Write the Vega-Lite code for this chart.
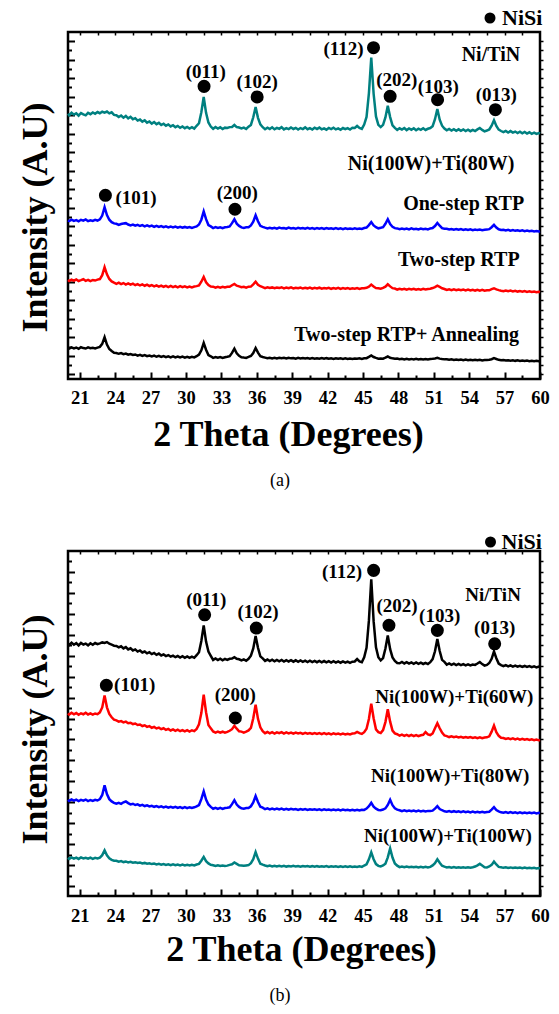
{
"$schema": "https://vega.github.io/schema/vega-lite/v6.json",
"background": "white",
"padding": {"left": 15, "top": 5, "right": 5, "bottom": 5},
"bounds": "flush",
"spacing": 172,
"config": {"view": {"stroke": "black", "strokeWidth": 2.5}},
"resolve": {"scale": {"color": "independent", "shape": "independent"}, "legend": {"color": "independent", "shape": "independent"}},
"datasets": {
"pa": [
{"x":20.0,"a":28.15,"b":16.62,"c":10.18,"d":2.88},
{"x":20.1,"a":27.98,"b":16.55,"c":10.09,"d":2.79},
{"x":20.3,"a":28.26,"b":16.71,"c":10.22,"d":2.92},
{"x":20.5,"a":28.05,"b":16.58,"c":10.12,"d":2.81},
{"x":20.7,"a":28.19,"b":16.66,"c":10.24,"d":2.9},
{"x":20.9,"a":27.94,"b":16.52,"c":10.08,"d":2.76},
{"x":21.1,"a":28.22,"b":16.69,"c":10.17,"d":2.93},
{"x":21.3,"a":28.08,"b":16.6,"c":10.27,"d":2.84},
{"x":21.5,"a":27.97,"b":16.73,"c":10.1,"d":2.79},
{"x":21.7,"a":28.24,"b":16.54,"c":10.2,"d":2.91},
{"x":21.9,"a":28.1,"b":16.64,"c":10.06,"d":2.82},
{"x":22.1,"a":28.29,"b":16.57,"c":10.19,"d":2.87},
{"x":22.3,"a":28.14,"b":16.68,"c":10.13,"d":2.8},
{"x":22.5,"a":28.33,"b":16.61,"c":10.23,"d":2.89},
{"x":22.7,"a":28.2,"b":16.74,"c":10.29,"d":2.97},
{"x":22.9,"a":28.36,"b":17.15,"c":10.71,"d":3.3},
{"x":23.1,"a":28.27,"b":18.05,"c":11.58,"d":4.02},
{"x":23.3,"a":28.38,"b":17.2,"c":10.8,"d":3.22},
{"x":23.5,"a":28.18,"b":16.7,"c":10.3,"d":2.74},
{"x":23.7,"a":28.3,"b":16.44,"c":10.04,"d":2.52},
{"x":23.9,"a":28.02,"b":16.3,"c":9.9,"d":2.33},
{"x":24.1,"a":27.98,"b":16.26,"c":9.78,"d":2.31},
{"x":24.3,"a":27.79,"b":16.15,"c":9.9,"d":2.22},
{"x":24.5,"a":27.95,"b":16.24,"c":9.74,"d":2.29},
{"x":24.7,"a":27.72,"b":16.3,"c":9.86,"d":2.18},
{"x":24.9,"a":27.9,"b":16.33,"c":9.7,"d":2.24},
{"x":25.1,"a":27.64,"b":16.18,"c":9.82,"d":2.12},
{"x":25.3,"a":27.81,"b":16.09,"c":9.69,"d":2.2},
{"x":25.5,"a":27.55,"b":16.17,"c":9.79,"d":2.09},
{"x":25.7,"a":27.66,"b":16.05,"c":9.63,"d":2.15},
{"x":25.9,"a":27.41,"b":16.14,"c":9.75,"d":2.03},
{"x":26.1,"a":27.52,"b":16.02,"c":9.6,"d":2.11},
{"x":26.3,"a":27.29,"b":16.12,"c":9.71,"d":1.99},
{"x":26.5,"a":27.44,"b":15.99,"c":9.57,"d":2.08},
{"x":26.7,"a":27.18,"b":16.09,"c":9.68,"d":1.96},
{"x":26.9,"a":27.31,"b":15.97,"c":9.54,"d":2.04},
{"x":27.1,"a":27.08,"b":16.06,"c":9.64,"d":1.93},
{"x":27.3,"a":27.25,"b":15.93,"c":9.51,"d":2.02},
{"x":27.5,"a":27.02,"b":16.03,"c":9.62,"d":1.9},
{"x":27.7,"a":27.16,"b":15.92,"c":9.48,"d":1.99},
{"x":27.9,"a":26.93,"b":16.01,"c":9.59,"d":1.88},
{"x":28.1,"a":27.07,"b":15.9,"c":9.46,"d":1.97},
{"x":28.3,"a":26.85,"b":15.99,"c":9.56,"d":1.86},
{"x":28.5,"a":26.99,"b":15.88,"c":9.43,"d":1.95},
{"x":28.7,"a":26.77,"b":15.97,"c":9.55,"d":1.84},
{"x":28.9,"a":26.9,"b":15.86,"c":9.42,"d":1.94},
{"x":29.1,"a":26.69,"b":15.95,"c":9.53,"d":1.83},
{"x":29.3,"a":26.83,"b":15.85,"c":9.4,"d":1.92},
{"x":29.5,"a":26.62,"b":15.94,"c":9.52,"d":1.82},
{"x":29.7,"a":26.77,"b":15.84,"c":9.41,"d":1.91},
{"x":29.9,"a":26.58,"b":15.92,"c":9.5,"d":1.81},
{"x":30.1,"a":26.72,"b":15.83,"c":9.39,"d":1.9},
{"x":30.3,"a":26.55,"b":15.91,"c":9.49,"d":1.8},
{"x":30.5,"a":26.7,"b":15.82,"c":9.4,"d":1.89},
{"x":30.7,"a":26.54,"b":15.9,"c":9.48,"d":1.83},
{"x":30.9,"a":26.84,"b":15.98,"c":9.53,"d":1.96},
{"x":31.1,"a":27.12,"b":16.18,"c":9.6,"d":2.14},
{"x":31.3,"a":28.31,"b":16.7,"c":10.0,"d":2.6},
{"x":31.5,"a":29.95,"b":17.6,"c":10.52,"d":3.4},
{"x":31.7,"a":28.24,"b":16.76,"c":9.95,"d":2.66},
{"x":31.9,"a":27.2,"b":16.12,"c":9.64,"d":2.09},
{"x":32.1,"a":26.76,"b":15.98,"c":9.48,"d":1.95},
{"x":32.3,"a":26.52,"b":15.8,"c":9.47,"d":1.78},
{"x":32.5,"a":26.71,"b":15.9,"c":9.36,"d":1.87},
{"x":32.7,"a":26.55,"b":15.81,"c":9.45,"d":1.79},
{"x":32.9,"a":26.68,"b":15.89,"c":9.37,"d":1.86},
{"x":33.1,"a":26.49,"b":15.79,"c":9.46,"d":1.77},
{"x":33.3,"a":26.64,"b":15.88,"c":9.38,"d":1.85},
{"x":33.5,"a":26.6,"b":15.92,"c":9.46,"d":1.9},
{"x":33.7,"a":26.7,"b":15.98,"c":9.45,"d":1.96},
{"x":33.9,"a":26.72,"b":16.33,"c":9.62,"d":2.32},
{"x":34.1,"a":26.93,"b":16.75,"c":9.77,"d":2.77},
{"x":34.3,"a":26.7,"b":16.27,"c":9.58,"d":2.27},
{"x":34.5,"a":26.66,"b":16.03,"c":9.5,"d":2.0},
{"x":34.7,"a":26.56,"b":15.87,"c":9.41,"d":1.85},
{"x":34.9,"a":26.65,"b":15.82,"c":9.45,"d":1.81},
{"x":35.1,"a":26.5,"b":15.88,"c":9.37,"d":1.78},
{"x":35.3,"a":26.75,"b":15.89,"c":9.47,"d":1.88},
{"x":35.5,"a":26.94,"b":16.09,"c":9.48,"d":1.99},
{"x":35.7,"a":27.76,"b":16.48,"c":9.72,"d":2.31},
{"x":35.9,"a":28.88,"b":17.18,"c":10.0,"d":2.85},
{"x":36.1,"a":27.7,"b":16.53,"c":9.68,"d":2.35},
{"x":36.3,"a":26.99,"b":16.04,"c":9.52,"d":1.96},
{"x":36.5,"a":26.69,"b":15.93,"c":9.42,"d":1.87},
{"x":36.7,"a":26.47,"b":15.84,"c":9.31,"d":1.81},
{"x":36.9,"a":26.63,"b":15.76,"c":9.4,"d":1.74},
{"x":37.1,"a":26.5,"b":15.83,"c":9.33,"d":1.8},
{"x":37.3,"a":26.68,"b":15.75,"c":9.39,"d":1.73},
{"x":37.5,"a":26.46,"b":15.82,"c":9.3,"d":1.79},
{"x":37.7,"a":26.61,"b":15.74,"c":9.38,"d":1.72},
{"x":37.9,"a":26.52,"b":15.85,"c":9.32,"d":1.8},
{"x":38.1,"a":26.7,"b":15.77,"c":9.41,"d":1.74},
{"x":38.3,"a":26.45,"b":15.81,"c":9.29,"d":1.78},
{"x":38.5,"a":26.59,"b":15.73,"c":9.37,"d":1.71},
{"x":38.7,"a":26.48,"b":15.84,"c":9.31,"d":1.79},
{"x":38.9,"a":26.66,"b":15.76,"c":9.4,"d":1.73},
{"x":39.1,"a":26.5,"b":15.8,"c":9.28,"d":1.77},
{"x":39.3,"a":26.62,"b":15.72,"c":9.36,"d":1.7},
{"x":39.5,"a":26.44,"b":15.83,"c":9.3,"d":1.78},
{"x":39.7,"a":26.6,"b":15.75,"c":9.38,"d":1.72},
{"x":39.9,"a":26.49,"b":15.81,"c":9.27,"d":1.76},
{"x":40.1,"a":26.67,"b":15.73,"c":9.35,"d":1.71},
{"x":40.3,"a":26.47,"b":15.82,"c":9.29,"d":1.77},
{"x":40.5,"a":26.58,"b":15.74,"c":9.37,"d":1.7},
{"x":40.7,"a":26.43,"b":15.8,"c":9.26,"d":1.76},
{"x":40.9,"a":26.63,"b":15.71,"c":9.34,"d":1.69},
{"x":41.1,"a":26.5,"b":15.81,"c":9.28,"d":1.75},
{"x":41.3,"a":26.65,"b":15.73,"c":9.36,"d":1.7},
{"x":41.5,"a":26.46,"b":15.79,"c":9.25,"d":1.76},
{"x":41.7,"a":26.57,"b":15.7,"c":9.33,"d":1.68},
{"x":41.9,"a":26.42,"b":15.8,"c":9.27,"d":1.75},
{"x":42.1,"a":26.61,"b":15.72,"c":9.35,"d":1.69},
{"x":42.3,"a":26.48,"b":15.78,"c":9.24,"d":1.74},
{"x":42.5,"a":26.64,"b":15.7,"c":9.32,"d":1.67},
{"x":42.7,"a":26.45,"b":15.79,"c":9.26,"d":1.74},
{"x":42.9,"a":26.56,"b":15.71,"c":9.34,"d":1.68},
{"x":43.1,"a":26.41,"b":15.77,"c":9.23,"d":1.73},
{"x":43.3,"a":26.6,"b":15.69,"c":9.31,"d":1.67},
{"x":43.5,"a":26.47,"b":15.78,"c":9.25,"d":1.73},
{"x":43.7,"a":26.58,"b":15.7,"c":9.33,"d":1.66},
{"x":43.9,"a":26.44,"b":15.76,"c":9.22,"d":1.72},
{"x":44.1,"a":26.62,"b":15.69,"c":9.3,"d":1.67},
{"x":44.3,"a":26.6,"b":15.77,"c":9.25,"d":1.72},
{"x":44.5,"a":26.82,"b":15.71,"c":9.32,"d":1.68},
{"x":44.7,"a":26.6,"b":15.76,"c":9.23,"d":1.73},
{"x":44.9,"a":26.5,"b":15.7,"c":9.3,"d":1.67},
{"x":45.1,"a":26.98,"b":15.8,"c":9.29,"d":1.73},
{"x":45.3,"a":27.8,"b":15.85,"c":9.35,"d":1.75},
{"x":45.5,"a":30.35,"b":16.12,"c":9.47,"d":1.89},
{"x":45.7,"a":34.2,"b":16.45,"c":9.7,"d":2.05},
{"x":45.9,"a":30.3,"b":16.08,"c":9.5,"d":1.87},
{"x":46.1,"a":27.85,"b":15.89,"c":9.31,"d":1.78},
{"x":46.3,"a":26.95,"b":15.77,"c":9.29,"d":1.7},
{"x":46.5,"a":26.7,"b":15.83,"c":9.24,"d":1.72},
{"x":46.7,"a":26.95,"b":15.9,"c":9.33,"d":1.7},
{"x":46.9,"a":27.75,"b":16.26,"c":9.47,"d":1.81},
{"x":47.1,"a":29.0,"b":16.75,"c":9.73,"d":1.93},
{"x":47.3,"a":27.78,"b":16.22,"c":9.5,"d":1.79},
{"x":47.5,"a":26.9,"b":15.94,"c":9.31,"d":1.73},
{"x":47.7,"a":26.62,"b":15.79,"c":9.27,"d":1.68},
{"x":47.9,"a":26.4,"b":15.76,"c":9.16,"d":1.7},
{"x":48.1,"a":26.57,"b":15.68,"c":9.25,"d":1.63},
{"x":48.3,"a":26.43,"b":15.75,"c":9.17,"d":1.69},
{"x":48.5,"a":26.6,"b":15.67,"c":9.24,"d":1.62},
{"x":48.7,"a":26.38,"b":15.74,"c":9.15,"d":1.68},
{"x":48.9,"a":26.55,"b":15.66,"c":9.23,"d":1.62},
{"x":49.1,"a":26.42,"b":15.76,"c":9.16,"d":1.67},
{"x":49.3,"a":26.58,"b":15.68,"c":9.24,"d":1.61},
{"x":49.5,"a":26.36,"b":15.73,"c":9.14,"d":1.67},
{"x":49.7,"a":26.53,"b":15.65,"c":9.22,"d":1.6},
{"x":49.9,"a":26.41,"b":15.74,"c":9.15,"d":1.66},
{"x":50.1,"a":26.57,"b":15.67,"c":9.23,"d":1.61},
{"x":50.3,"a":26.39,"b":15.72,"c":9.17,"d":1.66},
{"x":50.5,"a":26.52,"b":15.66,"c":9.22,"d":1.6},
{"x":50.7,"a":26.6,"b":15.76,"c":9.25,"d":1.65},
{"x":50.9,"a":26.8,"b":15.8,"c":9.32,"d":1.68},
{"x":51.1,"a":27.55,"b":16.02,"c":9.42,"d":1.72},
{"x":51.3,"a":28.65,"b":16.35,"c":9.58,"d":1.78},
{"x":51.5,"a":27.5,"b":16.05,"c":9.44,"d":1.7},
{"x":51.7,"a":26.85,"b":15.79,"c":9.3,"d":1.65},
{"x":51.9,"a":26.55,"b":15.73,"c":9.22,"d":1.62},
{"x":52.1,"a":26.35,"b":15.72,"c":9.11,"d":1.63},
{"x":52.3,"a":26.5,"b":15.64,"c":9.19,"d":1.57},
{"x":52.5,"a":26.33,"b":15.7,"c":9.1,"d":1.62},
{"x":52.7,"a":26.48,"b":15.62,"c":9.18,"d":1.56},
{"x":52.9,"a":26.31,"b":15.69,"c":9.09,"d":1.61},
{"x":53.1,"a":26.46,"b":15.61,"c":9.17,"d":1.55},
{"x":53.3,"a":26.3,"b":15.68,"c":9.08,"d":1.6},
{"x":53.5,"a":26.44,"b":15.6,"c":9.16,"d":1.54},
{"x":53.7,"a":26.28,"b":15.67,"c":9.07,"d":1.59},
{"x":53.9,"a":26.42,"b":15.59,"c":9.15,"d":1.53},
{"x":54.1,"a":26.26,"b":15.66,"c":9.06,"d":1.58},
{"x":54.3,"a":26.4,"b":15.58,"c":9.14,"d":1.53},
{"x":54.5,"a":26.27,"b":15.65,"c":9.05,"d":1.57},
{"x":54.7,"a":26.45,"b":15.58,"c":9.13,"d":1.52},
{"x":54.9,"a":26.6,"b":15.63,"c":9.04,"d":1.57},
{"x":55.1,"a":26.4,"b":15.57,"c":9.12,"d":1.51},
{"x":55.3,"a":26.24,"b":15.62,"c":9.03,"d":1.56},
{"x":55.5,"a":26.33,"b":15.63,"c":9.09,"d":1.55},
{"x":55.7,"a":26.44,"b":15.68,"c":9.08,"d":1.59},
{"x":55.9,"a":26.86,"b":15.89,"c":9.2,"d":1.64},
{"x":56.1,"a":27.45,"b":16.15,"c":9.3,"d":1.75},
{"x":56.3,"a":26.82,"b":15.86,"c":9.17,"d":1.66},
{"x":56.5,"a":26.43,"b":15.67,"c":9.1,"d":1.57},
{"x":56.7,"a":26.28,"b":15.6,"c":9.04,"d":1.53},
{"x":56.9,"a":26.15,"b":15.61,"c":8.99,"d":1.55},
{"x":57.1,"a":26.29,"b":15.54,"c":9.06,"d":1.49},
{"x":57.3,"a":26.12,"b":15.6,"c":8.97,"d":1.53},
{"x":57.5,"a":26.27,"b":15.52,"c":9.04,"d":1.48},
{"x":57.7,"a":26.1,"b":15.58,"c":8.96,"d":1.52},
{"x":57.9,"a":26.22,"b":15.5,"c":9.03,"d":1.46},
{"x":58.1,"a":26.06,"b":15.56,"c":8.94,"d":1.51},
{"x":58.3,"a":26.2,"b":15.49,"c":9.01,"d":1.45},
{"x":58.5,"a":26.03,"b":15.55,"c":8.93,"d":1.5},
{"x":58.7,"a":26.17,"b":15.47,"c":8.99,"d":1.44},
{"x":58.9,"a":26.01,"b":15.53,"c":8.91,"d":1.49},
{"x":59.1,"a":26.14,"b":15.46,"c":8.97,"d":1.43},
{"x":59.3,"a":25.98,"b":15.51,"c":8.9,"d":1.47},
{"x":59.5,"a":26.1,"b":15.44,"c":8.95,"d":1.42},
{"x":59.7,"a":25.96,"b":15.49,"c":8.88,"d":1.46},
{"x":59.9,"a":26.06,"b":15.43,"c":8.93,"d":1.41},
{"x":60.0,"a":25.99,"b":15.46,"c":8.9,"d":1.43}
],
"pb": [
{"x":20.0,"a":23.18,"b":16.5,"c":8.24,"d":2.7},
{"x":20.1,"a":23.02,"b":16.38,"c":8.13,"d":2.6},
{"x":20.3,"a":23.25,"b":16.55,"c":8.27,"d":2.74},
{"x":20.5,"a":23.05,"b":16.4,"c":8.15,"d":2.62},
{"x":20.7,"a":23.2,"b":16.52,"c":8.25,"d":2.71},
{"x":20.9,"a":22.98,"b":16.36,"c":8.12,"d":2.59},
{"x":21.1,"a":23.22,"b":16.5,"c":8.23,"d":2.73},
{"x":21.3,"a":23.07,"b":16.41,"c":8.16,"d":2.63},
{"x":21.5,"a":23.16,"b":16.56,"c":8.26,"d":2.7},
{"x":21.7,"a":22.99,"b":16.39,"c":8.11,"d":2.61},
{"x":21.9,"a":23.19,"b":16.49,"c":8.22,"d":2.72},
{"x":22.1,"a":23.04,"b":16.37,"c":8.14,"d":2.6},
{"x":22.3,"a":23.21,"b":16.48,"c":8.24,"d":2.69},
{"x":22.5,"a":23.1,"b":16.42,"c":8.17,"d":2.64},
{"x":22.7,"a":23.18,"b":16.59,"c":8.3,"d":2.72},
{"x":22.9,"a":23.27,"b":17.06,"c":8.7,"d":2.95},
{"x":23.1,"a":23.22,"b":18.2,"c":9.62,"d":3.41},
{"x":23.3,"a":23.3,"b":17.07,"c":8.78,"d":2.93},
{"x":23.5,"a":23.14,"b":16.44,"c":8.3,"d":2.65},
{"x":23.7,"a":23.05,"b":16.12,"c":8.08,"d":2.5},
{"x":23.9,"a":22.95,"b":15.9,"c":7.95,"d":2.42},
{"x":24.1,"a":22.93,"b":15.82,"c":7.86,"d":2.42},
{"x":24.3,"a":22.79,"b":15.7,"c":7.94,"d":2.33},
{"x":24.5,"a":22.9,"b":15.75,"c":7.85,"d":2.38},
{"x":24.7,"a":22.7,"b":15.63,"c":8.0,"d":2.29},
{"x":24.9,"a":22.82,"b":15.7,"c":8.08,"d":2.35},
{"x":25.1,"a":22.6,"b":15.55,"c":7.92,"d":2.26},
{"x":25.3,"a":22.71,"b":15.6,"c":7.8,"d":2.31},
{"x":25.5,"a":22.5,"b":15.47,"c":7.86,"d":2.23},
{"x":25.7,"a":22.6,"b":15.52,"c":7.74,"d":2.28},
{"x":25.9,"a":22.39,"b":15.38,"c":7.8,"d":2.2},
{"x":26.1,"a":22.5,"b":15.43,"c":7.68,"d":2.24},
{"x":26.3,"a":22.31,"b":15.28,"c":7.75,"d":2.16},
{"x":26.5,"a":22.4,"b":15.35,"c":7.64,"d":2.21},
{"x":26.7,"a":22.22,"b":15.2,"c":7.71,"d":2.13},
{"x":26.9,"a":22.33,"b":15.27,"c":7.6,"d":2.18},
{"x":27.1,"a":22.15,"b":15.12,"c":7.67,"d":2.1},
{"x":27.3,"a":22.26,"b":15.2,"c":7.57,"d":2.15},
{"x":27.5,"a":22.08,"b":15.05,"c":7.64,"d":2.07},
{"x":27.7,"a":22.2,"b":15.13,"c":7.54,"d":2.12},
{"x":27.9,"a":22.02,"b":14.98,"c":7.61,"d":2.04},
{"x":28.1,"a":22.12,"b":15.07,"c":7.51,"d":2.1},
{"x":28.3,"a":21.96,"b":14.91,"c":7.59,"d":2.02},
{"x":28.5,"a":22.06,"b":15.01,"c":7.49,"d":2.08},
{"x":28.7,"a":21.91,"b":14.86,"c":7.57,"d":2.0},
{"x":28.9,"a":22.01,"b":14.96,"c":7.48,"d":2.07},
{"x":29.1,"a":21.86,"b":14.82,"c":7.56,"d":1.99},
{"x":29.3,"a":21.97,"b":14.93,"c":7.46,"d":2.06},
{"x":29.5,"a":21.83,"b":14.79,"c":7.55,"d":1.98},
{"x":29.7,"a":21.95,"b":14.9,"c":7.45,"d":2.05},
{"x":29.9,"a":21.8,"b":14.77,"c":7.54,"d":1.97},
{"x":30.1,"a":21.93,"b":14.89,"c":7.44,"d":2.04},
{"x":30.3,"a":21.79,"b":14.76,"c":7.53,"d":1.96},
{"x":30.5,"a":21.91,"b":14.88,"c":7.45,"d":2.03},
{"x":30.7,"a":21.8,"b":14.8,"c":7.52,"d":1.97},
{"x":30.9,"a":22.05,"b":15.0,"c":7.61,"d":2.06},
{"x":31.1,"a":22.33,"b":15.45,"c":7.74,"d":2.12},
{"x":31.3,"a":23.4,"b":16.52,"c":8.3,"d":2.42},
{"x":31.5,"a":24.9,"b":18.27,"c":9.04,"d":2.78},
{"x":31.7,"a":23.35,"b":16.6,"c":8.25,"d":2.38},
{"x":31.9,"a":22.4,"b":15.38,"c":7.79,"d":2.16},
{"x":32.1,"a":21.99,"b":15.06,"c":7.56,"d":2.03},
{"x":32.3,"a":21.6,"b":14.77,"c":7.38,"d":1.99},
{"x":32.5,"a":21.74,"b":14.66,"c":7.47,"d":1.92},
{"x":32.7,"a":21.58,"b":14.76,"c":7.37,"d":1.98},
{"x":32.9,"a":21.71,"b":14.65,"c":7.46,"d":1.91},
{"x":33.1,"a":21.56,"b":14.74,"c":7.36,"d":1.97},
{"x":33.3,"a":21.69,"b":14.64,"c":7.45,"d":1.92},
{"x":33.5,"a":21.6,"b":14.72,"c":7.47,"d":1.95},
{"x":33.7,"a":21.7,"b":14.83,"c":7.52,"d":2.02},
{"x":33.9,"a":21.72,"b":14.98,"c":7.82,"d":2.08},
{"x":34.1,"a":21.86,"b":15.3,"c":8.2,"d":2.25},
{"x":34.3,"a":21.7,"b":15.03,"c":7.78,"d":2.12},
{"x":34.5,"a":21.66,"b":14.78,"c":7.56,"d":1.98},
{"x":34.7,"a":21.55,"b":14.75,"c":7.43,"d":1.96},
{"x":34.9,"a":21.65,"b":14.66,"c":7.39,"d":1.93},
{"x":35.1,"a":21.52,"b":14.74,"c":7.46,"d":1.97},
{"x":35.3,"a":21.7,"b":14.86,"c":7.45,"d":2.0},
{"x":35.5,"a":22.0,"b":15.1,"c":7.62,"d":2.18},
{"x":35.7,"a":22.7,"b":16.03,"c":7.98,"d":2.56},
{"x":35.9,"a":23.88,"b":17.33,"c":8.6,"d":3.24},
{"x":36.1,"a":22.76,"b":15.97,"c":8.03,"d":2.62},
{"x":36.3,"a":21.94,"b":15.16,"c":7.58,"d":2.13},
{"x":36.5,"a":21.74,"b":14.8,"c":7.49,"d":2.04},
{"x":36.7,"a":21.5,"b":14.6,"c":7.34,"d":1.96},
{"x":36.9,"a":21.63,"b":14.71,"c":7.42,"d":1.89},
{"x":37.1,"a":21.48,"b":14.58,"c":7.33,"d":1.95},
{"x":37.3,"a":21.61,"b":14.69,"c":7.41,"d":1.88},
{"x":37.5,"a":21.46,"b":14.57,"c":7.32,"d":1.94},
{"x":37.7,"a":21.6,"b":14.68,"c":7.4,"d":1.87},
{"x":37.9,"a":21.47,"b":14.6,"c":7.31,"d":1.93},
{"x":38.1,"a":21.59,"b":14.7,"c":7.39,"d":1.88},
{"x":38.3,"a":21.44,"b":14.56,"c":7.3,"d":1.94},
{"x":38.5,"a":21.58,"b":14.67,"c":7.38,"d":1.86},
{"x":38.7,"a":21.45,"b":14.58,"c":7.29,"d":1.92},
{"x":38.9,"a":21.57,"b":14.66,"c":7.37,"d":1.87},
{"x":39.1,"a":21.43,"b":14.55,"c":7.31,"d":1.93},
{"x":39.3,"a":21.56,"b":14.65,"c":7.36,"d":1.86},
{"x":39.5,"a":21.42,"b":14.57,"c":7.28,"d":1.91},
{"x":39.7,"a":21.55,"b":14.64,"c":7.36,"d":1.85},
{"x":39.9,"a":21.41,"b":14.54,"c":7.29,"d":1.92},
{"x":40.1,"a":21.53,"b":14.63,"c":7.35,"d":1.86},
{"x":40.3,"a":21.4,"b":14.55,"c":7.27,"d":1.91},
{"x":40.5,"a":21.52,"b":14.62,"c":7.34,"d":1.85},
{"x":40.7,"a":21.39,"b":14.53,"c":7.28,"d":1.9},
{"x":40.9,"a":21.51,"b":14.61,"c":7.33,"d":1.84},
{"x":41.1,"a":21.38,"b":14.52,"c":7.26,"d":1.9},
{"x":41.3,"a":21.5,"b":14.6,"c":7.33,"d":1.85},
{"x":41.5,"a":21.37,"b":14.51,"c":7.25,"d":1.89},
{"x":41.7,"a":21.49,"b":14.6,"c":7.32,"d":1.84},
{"x":41.9,"a":21.36,"b":14.5,"c":7.26,"d":1.9},
{"x":42.1,"a":21.48,"b":14.59,"c":7.31,"d":1.83},
{"x":42.3,"a":21.35,"b":14.49,"c":7.24,"d":1.89},
{"x":42.5,"a":21.47,"b":14.58,"c":7.31,"d":1.84},
{"x":42.7,"a":21.34,"b":14.5,"c":7.25,"d":1.88},
{"x":42.9,"a":21.46,"b":14.57,"c":7.3,"d":1.83},
{"x":43.1,"a":21.33,"b":14.48,"c":7.23,"d":1.89},
{"x":43.3,"a":21.45,"b":14.56,"c":7.3,"d":1.83},
{"x":43.5,"a":21.33,"b":14.49,"c":7.24,"d":1.88},
{"x":43.7,"a":21.44,"b":14.55,"c":7.29,"d":1.82},
{"x":43.9,"a":21.32,"b":14.48,"c":7.22,"d":1.88},
{"x":44.1,"a":21.43,"b":14.56,"c":7.29,"d":1.83},
{"x":44.3,"a":21.45,"b":14.58,"c":7.23,"d":1.87},
{"x":44.5,"a":21.68,"b":14.72,"c":7.28,"d":1.82},
{"x":44.7,"a":21.45,"b":14.6,"c":7.22,"d":1.88},
{"x":44.9,"a":21.38,"b":14.53,"c":7.29,"d":1.83},
{"x":45.1,"a":21.85,"b":14.7,"c":7.27,"d":1.96},
{"x":45.3,"a":22.75,"b":15.02,"c":7.4,"d":2.08},
{"x":45.5,"a":25.35,"b":15.95,"c":7.62,"d":2.55},
{"x":45.7,"a":29.3,"b":17.42,"c":7.95,"d":3.22},
{"x":45.9,"a":25.3,"b":16.02,"c":7.58,"d":2.56},
{"x":46.1,"a":22.8,"b":14.97,"c":7.39,"d":2.1},
{"x":46.3,"a":21.85,"b":14.7,"c":7.27,"d":1.93},
{"x":46.5,"a":21.55,"b":14.62,"c":7.24,"d":1.87},
{"x":46.7,"a":21.78,"b":14.9,"c":7.31,"d":1.96},
{"x":46.9,"a":22.68,"b":15.66,"c":7.42,"d":2.14},
{"x":47.1,"a":23.93,"b":16.88,"c":7.75,"d":2.74},
{"x":47.3,"a":22.62,"b":15.7,"c":8.24,"d":3.6},
{"x":47.5,"a":21.84,"b":14.85,"c":7.72,"d":2.72},
{"x":47.7,"a":21.5,"b":14.58,"c":7.43,"d":2.16},
{"x":47.9,"a":21.3,"b":14.5,"c":7.3,"d":1.95},
{"x":48.1,"a":21.28,"b":14.36,"c":7.24,"d":1.81},
{"x":48.3,"a":21.4,"b":14.46,"c":7.16,"d":1.87},
{"x":48.5,"a":21.26,"b":14.35,"c":7.23,"d":1.8},
{"x":48.7,"a":21.38,"b":14.44,"c":7.15,"d":1.86},
{"x":48.9,"a":21.24,"b":14.33,"c":7.22,"d":1.79},
{"x":49.1,"a":21.36,"b":14.43,"c":7.14,"d":1.85},
{"x":49.3,"a":21.23,"b":14.32,"c":7.21,"d":1.79},
{"x":49.5,"a":21.35,"b":14.42,"c":7.13,"d":1.85},
{"x":49.7,"a":21.22,"b":14.31,"c":7.2,"d":1.78},
{"x":49.9,"a":21.33,"b":14.4,"c":7.13,"d":1.84},
{"x":50.1,"a":21.21,"b":14.45,"c":7.19,"d":1.78},
{"x":50.3,"a":21.32,"b":14.7,"c":7.12,"d":1.83},
{"x":50.5,"a":21.2,"b":14.48,"c":7.18,"d":1.77},
{"x":50.7,"a":21.38,"b":14.42,"c":7.18,"d":1.83},
{"x":50.9,"a":21.68,"b":14.58,"c":7.2,"d":1.97},
{"x":51.1,"a":22.42,"b":15.08,"c":7.4,"d":2.19},
{"x":51.3,"a":23.6,"b":15.55,"c":7.63,"d":2.55},
{"x":51.5,"a":22.45,"b":15.07,"c":7.36,"d":2.22},
{"x":51.7,"a":21.6,"b":14.65,"c":7.24,"d":1.94},
{"x":51.9,"a":21.41,"b":14.38,"c":7.14,"d":1.85},
{"x":52.1,"a":21.15,"b":14.32,"c":7.1,"d":1.77},
{"x":52.3,"a":21.26,"b":14.23,"c":7.16,"d":1.82},
{"x":52.5,"a":21.13,"b":14.3,"c":7.08,"d":1.76},
{"x":52.7,"a":21.24,"b":14.21,"c":7.15,"d":1.81},
{"x":52.9,"a":21.11,"b":14.28,"c":7.07,"d":1.75},
{"x":53.1,"a":21.22,"b":14.19,"c":7.14,"d":1.8},
{"x":53.3,"a":21.1,"b":14.26,"c":7.06,"d":1.75},
{"x":53.5,"a":21.2,"b":14.17,"c":7.13,"d":1.8},
{"x":53.7,"a":21.08,"b":14.24,"c":7.05,"d":1.74},
{"x":53.9,"a":21.18,"b":14.16,"c":7.12,"d":1.79},
{"x":54.1,"a":21.07,"b":14.23,"c":7.04,"d":1.75},
{"x":54.3,"a":21.16,"b":14.15,"c":7.11,"d":1.8},
{"x":54.5,"a":21.12,"b":14.21,"c":7.04,"d":1.86},
{"x":54.7,"a":21.25,"b":14.13,"c":7.1,"d":1.98},
{"x":54.9,"a":21.4,"b":14.2,"c":7.03,"d":2.12},
{"x":55.1,"a":21.2,"b":14.12,"c":7.09,"d":1.96},
{"x":55.3,"a":21.05,"b":14.19,"c":7.02,"d":1.8},
{"x":55.5,"a":21.12,"b":14.2,"c":7.08,"d":1.78},
{"x":55.7,"a":21.3,"b":14.3,"c":7.1,"d":1.87},
{"x":55.9,"a":21.7,"b":14.75,"c":7.3,"d":2.02},
{"x":56.1,"a":22.4,"b":15.32,"c":7.53,"d":2.33},
{"x":56.3,"a":21.76,"b":14.7,"c":7.26,"d":2.06},
{"x":56.5,"a":21.25,"b":14.35,"c":7.13,"d":1.83},
{"x":56.7,"a":21.1,"b":14.17,"c":7.04,"d":1.8},
{"x":56.9,"a":21.0,"b":14.14,"c":7.0,"d":1.74},
{"x":57.1,"a":21.1,"b":14.05,"c":7.07,"d":1.79},
{"x":57.3,"a":20.98,"b":14.12,"c":6.99,"d":1.73},
{"x":57.5,"a":21.08,"b":14.03,"c":7.06,"d":1.78},
{"x":57.7,"a":20.96,"b":14.1,"c":6.98,"d":1.72},
{"x":57.9,"a":21.06,"b":14.01,"c":7.05,"d":1.77},
{"x":58.1,"a":20.95,"b":14.08,"c":6.97,"d":1.72},
{"x":58.3,"a":21.04,"b":13.99,"c":7.04,"d":1.77},
{"x":58.5,"a":20.93,"b":14.06,"c":6.96,"d":1.71},
{"x":58.7,"a":21.02,"b":13.97,"c":7.03,"d":1.76},
{"x":58.9,"a":20.92,"b":14.04,"c":6.96,"d":1.7},
{"x":59.1,"a":21.0,"b":13.96,"c":7.02,"d":1.75},
{"x":59.3,"a":20.9,"b":14.02,"c":6.95,"d":1.7},
{"x":59.5,"a":20.98,"b":13.94,"c":7.01,"d":1.74},
{"x":59.7,"a":20.89,"b":14.0,"c":6.94,"d":1.69},
{"x":59.9,"a":20.96,"b":13.92,"c":6.99,"d":1.73},
{"x":60.0,"a":20.92,"b":13.95,"c":6.97,"d":1.71}
]
},
"vconcat": [
{
"width": 472, "height": 347,
"title": {"text": "(a)", "orient": "bottom", "anchor": "middle", "dx": -24, "offset": 20, "font": "Liberation Serif", "fontSize": 18, "fontWeight": "normal", "color": "black"},
"resolve": {"axis": {"x": "independent", "y": "independent"}},
"layer": [
{
"data": {"name": "pa"},
"transform": [{"fold": ["a", "b", "c", "d"], "as": ["trace", "value"]}],
"mark": {"type": "line", "strokeWidth": 2.5},
"encoding": {
"x": {"field": "x", "type": "quantitative", "scale": {"domain": [20, 60], "nice": false, "zero": false},
 "axis": {"orient": "bottom", "values": [21,24,27,30,33,36,39,42,45,48,51,54,57,60], "domain": false, "grid": false, "tickSize": -7, "tickWidth": 2, "tickColor": "black", "labelFont": "Liberation Serif", "labelFontSize": 18.5, "labelFontWeight": "bold", "labelColor": "black", "labelBaseline": "alphabetic", "labelPadding": 31.7, "labelFlush": false, "labelOverlap": false, "format": "d", "title": "2 Theta (Degrees)", "titleFont": "Liberation Serif", "titleFontSize": 36, "titleFontWeight": "bold", "titleColor": "black", "titleBaseline": "alphabetic", "titleX": 220, "titleY": 66}},
"y": {"field": "value", "type": "quantitative", "scale": {"domain": [-0.5, 36.97], "nice": false, "zero": false},
 "axis": {"orient": "left", "values": [0,2,4,6,8,10,12,14,16,18,20,22,24,26,28,30,32,34,36], "domain": false, "grid": false, "labels": false, "tickSize": -6.5, "tickWidth": 2, "tickColor": "black", "title": "Intensity (A.U)", "titleFont": "Liberation Serif", "titleFontSize": 36, "titleFontWeight": "bold", "titleColor": "black", "titleAngle": 270, "titleBaseline": "alphabetic", "titleAlign": "center", "titleX": -22, "titleY": 185}},
"color": {"field": "trace", "type": "nominal", "scale": {"domain": ["a", "b", "c", "d"], "range": ["#008080", "#0000ff", "#ff0000", "#000000"]}, "legend": null}
}
},
{
"data": {"values": [
{"phase":"NiSi","x":31.53,"y":31.1},{"phase":"NiSi","x":36.03,"y":29.96},{"phase":"NiSi","x":45.89,"y":35.28},{"phase":"NiSi","x":47.3,"y":30.03},{"phase":"NiSi","x":51.32,"y":29.66},{"phase":"NiSi","x":56.22,"y":28.58},{"phase":"NiSi","x":23.17,"y":19.34},{"phase":"NiSi","x":34.15,"y":17.83}
]},
"mark": {"type": "point", "filled": true, "color": "black", "opacity": 1, "size": 170},
"encoding": {
"x": {"field": "x", "type": "quantitative", "scale": {"domain": [20, 60], "nice": false, "zero": false},
 "axis": {"orient": "bottom", "values": [22.5,25.5,28.5,31.5,34.5,37.5,40.5,43.5,46.5,49.5,52.5,55.5,58.5], "domain": false, "grid": false, "labels": false, "tickSize": -4, "tickWidth": 2, "tickColor": "black", "title": null}},
"y": {"field": "y", "type": "quantitative", "scale": {"domain": [-0.5, 36.97], "nice": false, "zero": false},
 "axis": {"orient": "left", "values": [1,3,5,7,9,11,13,15,17,19,21,23,25,27,29,31,33,35], "domain": false, "grid": false, "labels": false, "tickSize": -3.5, "tickWidth": 2, "tickColor": "black", "title": null}},
"shape": {"field": "phase", "type": "nominal", "scale": {"domain": ["NiSi"], "range": ["circle"]},
 "legend": {"orient": "none", "legendX": 411, "legendY": -25, "title": null, "padding": 0, "symbolSize": 121, "symbolType": "circle", "symbolFillColor": "black", "symbolStrokeColor": "black", "symbolStrokeWidth": 0, "labelFont": "Liberation Serif", "labelFontSize": 22, "labelFontWeight": "bold", "labelColor": "black", "labelOffset": 1}}
}
},
{
"data": {"values": [
{"t":"(011)","x":31.67,"y":32.65},{"t":"(102)","x":36.03,"y":31.57},{"t":"(112)","x":43.35,"y":35.17},{"t":"(202)","x":47.86,"y":31.75},{"t":"(103)","x":51.38,"y":31.03},{"t":"(013)","x":56.3,"y":30.14},{"t":"(101)","x":25.76,"y":19.05},{"t":"(200)","x":34.34,"y":19.62}
]},
"mark": {"type": "text", "font": "Liberation Serif", "fontSize": 19, "fontWeight": "bold", "color": "black", "align": "center", "baseline": "middle"},
"encoding": {
"x": {"field": "x", "type": "quantitative", "scale": {"domain": [20, 60], "nice": false, "zero": false},
 "axis": {"orient": "top", "values": [21,22.5,24,25.5,27,28.5,30,31.5,33,34.5,36,37.5,39,40.5,42,43.5,45,46.5,48,49.5,51,52.5,54,55.5,57,58.5], "domain": false, "grid": false, "labels": false, "tickSize": -3, "tickWidth": 1.5, "tickColor": "black", "title": null}},
"y": {"field": "y", "type": "quantitative", "scale": {"domain": [-0.5, 36.97], "nice": false, "zero": false},
 "axis": {"orient": "right", "values": [0,1,2,3,4,5,6,7,8,9,10,11,12,13,14,15,16,17,18,19,20,21,22,23,24,25,26,27,28,29,30,31,32,33,34,35,36], "domain": false, "grid": false, "labels": false, "tickSize": 3, "tickWidth": 1.5, "tickColor": "black", "title": null}},
"text": {"field": "t", "type": "nominal"}
}
},
{
"data": {"values": [
{"t":"Ni/TiN","x":55.84,"y":34.46},{"t":"Ni(100W)+Ti(80W)","x":50.77,"y":22.75},{"t":"One-step RTP","x":53.53,"y":18.43},{"t":"Two-step RTP","x":53.12,"y":12.32},{"t":"Two-step RTP+ Annealing","x":48.7,"y":4.29}
]},
"mark": {"type": "text", "font": "Liberation Serif", "fontSize": 20, "fontWeight": "bold", "color": "black", "align": "center", "baseline": "middle"},
"encoding": {
"x": {"field": "x", "type": "quantitative", "scale": {"domain": [20, 60], "nice": false, "zero": false}, "axis": null},
"y": {"field": "y", "type": "quantitative", "scale": {"domain": [-0.5, 36.97], "nice": false, "zero": false}, "axis": null},
"text": {"field": "t", "type": "nominal"}
}
}
]
},
{
"width": 472, "height": 345,
"title": {"text": "(b)", "orient": "bottom", "anchor": "middle", "dx": -24, "offset": 20, "font": "Liberation Serif", "fontSize": 18, "fontWeight": "normal", "color": "black"},
"resolve": {"axis": {"x": "independent", "y": "independent"}},
"layer": [
{
"data": {"name": "pb"},
"transform": [{"fold": ["a", "b", "c", "d"], "as": ["trace", "value"]}],
"mark": {"type": "line", "strokeWidth": 2.5},
"encoding": {
"x": {"field": "x", "type": "quantitative", "scale": {"domain": [20, 60], "nice": false, "zero": false},
 "axis": {"orient": "bottom", "values": [21,24,27,30,33,36,39,42,45,48,51,54,57,60], "domain": false, "grid": false, "tickSize": -7, "tickWidth": 2, "tickColor": "black", "labelFont": "Liberation Serif", "labelFontSize": 18.5, "labelFontWeight": "bold", "labelColor": "black", "labelBaseline": "alphabetic", "labelPadding": 32, "labelFlush": false, "labelOverlap": false, "format": "d", "title": "2 Theta (Degrees)", "titleFont": "Liberation Serif", "titleFontSize": 36, "titleFontWeight": "bold", "titleColor": "black", "titleBaseline": "alphabetic", "titleX": 233, "titleY": 64}},
"y": {"field": "value", "type": "quantitative", "scale": {"domain": [-0.95, 32.0], "nice": false, "zero": false},
 "axis": {"orient": "left", "values": [0,2,4,6,8,10,12,14,16,18,20,22,24,26,28,30], "domain": false, "grid": false, "labels": false, "tickSize": -6.5, "tickWidth": 2, "tickColor": "black", "title": "Intensity (A.U)", "titleFont": "Liberation Serif", "titleFontSize": 36, "titleFontWeight": "bold", "titleColor": "black", "titleAngle": 270, "titleBaseline": "alphabetic", "titleAlign": "center", "titleX": -22, "titleY": 178}},
"color": {"field": "trace", "type": "nominal", "scale": {"domain": ["a", "b", "c", "d"], "range": ["#000000", "#ff0000", "#0000ff", "#008080"]}, "legend": null}
}
},
{
"data": {"values": [
{"phase":"NiSi","x":31.58,"y":25.91},{"phase":"NiSi","x":35.96,"y":24.64},{"phase":"NiSi","x":45.9,"y":30.15},{"phase":"NiSi","x":47.2,"y":24.9},{"phase":"NiSi","x":51.3,"y":24.42},{"phase":"NiSi","x":56.16,"y":23.14},{"phase":"NiSi","x":23.25,"y":19.17},{"phase":"NiSi","x":34.18,"y":16.05}
]},
"mark": {"type": "point", "filled": true, "color": "black", "opacity": 1, "size": 170},
"encoding": {
"x": {"field": "x", "type": "quantitative", "scale": {"domain": [20, 60], "nice": false, "zero": false},
 "axis": {"orient": "bottom", "values": [22.5,25.5,28.5,31.5,34.5,37.5,40.5,43.5,46.5,49.5,52.5,55.5,58.5], "domain": false, "grid": false, "labels": false, "tickSize": -4, "tickWidth": 2, "tickColor": "black", "title": null}},
"y": {"field": "y", "type": "quantitative", "scale": {"domain": [-0.95, 32.0], "nice": false, "zero": false},
 "axis": {"orient": "left", "values": [1,3,5,7,9,11,13,15,17,19,21,23,25,27,29,31], "domain": false, "grid": false, "labels": false, "tickSize": -3.5, "tickWidth": 2, "tickColor": "black", "title": null}},
"shape": {"field": "phase", "type": "nominal", "scale": {"domain": ["NiSi"], "range": ["circle"]},
 "legend": {"orient": "none", "legendX": 411.5, "legendY": -20, "title": null, "padding": 0, "symbolSize": 121, "symbolType": "circle", "symbolFillColor": "black", "symbolStrokeColor": "black", "symbolStrokeWidth": 0, "labelFont": "Liberation Serif", "labelFontSize": 22, "labelFontWeight": "bold", "labelColor": "black", "labelOffset": 0}}
}
},
{
"data": {"values": [
{"t":"(011)","x":31.72,"y":27.29},{"t":"(102)","x":36.1,"y":26.17},{"t":"(112)","x":43.22,"y":29.99},{"t":"(202)","x":47.88,"y":26.74},{"t":"(103)","x":51.5,"y":25.79},{"t":"(013)","x":56.16,"y":24.64},{"t":"(101)","x":25.65,"y":19.17},{"t":"(200)","x":34.18,"y":18.27}
]},
"mark": {"type": "text", "font": "Liberation Serif", "fontSize": 19, "fontWeight": "bold", "color": "black", "align": "center", "baseline": "middle"},
"encoding": {
"x": {"field": "x", "type": "quantitative", "scale": {"domain": [20, 60], "nice": false, "zero": false},
 "axis": {"orient": "top", "values": [21,22.5,24,25.5,27,28.5,30,31.5,33,34.5,36,37.5,39,40.5,42,43.5,45,46.5,48,49.5,51,52.5,54,55.5,57,58.5], "domain": false, "grid": false, "labels": false, "tickSize": -3, "tickWidth": 1.5, "tickColor": "black", "title": null}},
"y": {"field": "y", "type": "quantitative", "scale": {"domain": [-0.95, 32.0], "nice": false, "zero": false},
 "axis": {"orient": "right", "values": [0,1,2,3,4,5,6,7,8,9,10,11,12,13,14,15,16,17,18,19,20,21,22,23,24,25,26,27,28,29,30,31], "domain": false, "grid": false, "labels": false, "tickSize": 3, "tickWidth": 1.5, "tickColor": "black", "title": null}},
"text": {"field": "t", "type": "nominal"}
}
},
{
"data": {"values": [
{"t":"Ni/TiN","x":56.02,"y":27.82},{"t":"Ni(100W)+Ti(60W)","x":52.74,"y":18.05},{"t":"Ni(100W)+Ti(80W)","x":52.39,"y":10.48},{"t":"Ni(100W)+Ti(100W)","x":52.2,"y":4.78}
]},
"mark": {"type": "text", "font": "Liberation Serif", "fontSize": 19, "fontWeight": "bold", "color": "black", "align": "center", "baseline": "middle"},
"encoding": {
"x": {"field": "x", "type": "quantitative", "scale": {"domain": [20, 60], "nice": false, "zero": false}, "axis": null},
"y": {"field": "y", "type": "quantitative", "scale": {"domain": [-0.95, 32.0], "nice": false, "zero": false}, "axis": null},
"text": {"field": "t", "type": "nominal"}
}
}
]
}
]
}
